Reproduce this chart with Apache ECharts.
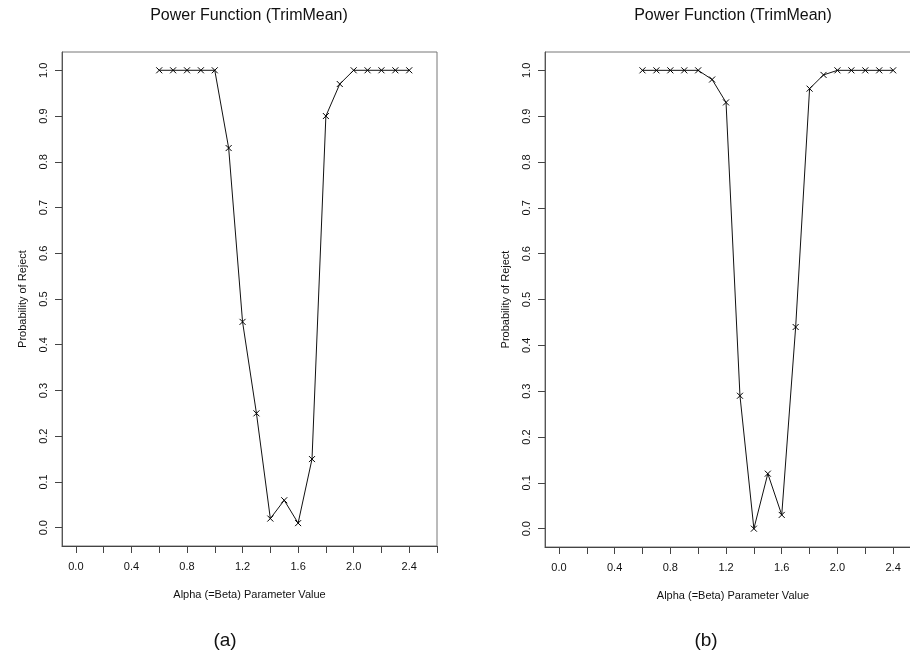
<!DOCTYPE html>
<html>
<head>
<meta charset="utf-8">
<script src="https://cdn.jsdelivr.net/npm/echarts@6/dist/echarts.min.js"></script>
<style>
  html, body { margin: 0; padding: 0; background: #fff; }
  #chart { width: 910px; height: 657px; }
</style>
</head>
<body>
<div id="chart"></div>
<script>
// valeurs de alpha (=beta) testées
const alphaValues = [0.6, 0.7, 0.8, 0.9, 1.0, 1.1, 1.2, 1.3, 1.4, 1.5, 1.6, 1.7, 1.8, 1.9, 2.0, 2.1, 2.2, 2.3, 2.4];
// probabilité de rejet, panneau (a)
const powerA = [1.00, 1.00, 1.00, 1.00, 1.00, 0.83, 0.45, 0.25, 0.02, 0.06, 0.01, 0.15, 0.90, 0.97, 1.00, 1.00, 1.00, 1.00, 1.00];
// probabilité de rejet, panneau (b)
const powerB = [1.00, 1.00, 1.00, 1.00, 1.00, 0.98, 0.93, 0.29, 0.00, 0.12, 0.03, 0.44, 0.96, 0.99, 1.00, 1.00, 1.00, 1.00, 1.00];

// graduations
const xTickValues = [0, 0.2, 0.4, 0.6, 0.8, 1.0, 1.2, 1.4, 1.6, 1.8, 2.0, 2.2, 2.4, 2.6];
const xLabelValues = [0, 0.4, 0.8, 1.2, 1.6, 2.0, 2.4];
const yTickValues = [0, 0.1, 0.2, 0.3, 0.4, 0.5, 0.6, 0.7, 0.8, 0.9, 1.0];

const panelTitle = 'Power Function (TrimMean)';
const panelLetters = ['(a)', '(b)'];
const xName = 'Alpha (=Beta) Parameter Value';
const yName = 'Probability of Reject';

const FONT = '"Liberation Sans", Arial, Helvetica, sans-serif';
const CROSS = 'path://M0,0L10,10M10,0L0,10';

const chart = echarts.init(document.getElementById('chart'), null, { renderer: 'canvas' });

// le panneau (b) dépasse du bord droit comme dans l'original
const grids = [
    { left: 62, top: 52, width: 375, height: 494 },
    { left: 545, top: 52, width: 376, height: 495 }
];

function makeXAxis(i) {
    return {
        type: 'value',
        gridIndex: i,
        min: -0.1,
        max: 2.6,
        name: xName,
        nameLocation: 'middle',
        nameGap: 43,
        nameTextStyle: { fontFamily: FONT, fontSize: 11, color: '#111' },
        axisLine: { show: true, onZero: false, lineStyle: { color: '#444', width: 1 } },
        axisTick: { show: true, length: 7, customValues: xTickValues, lineStyle: { color: '#444' } },
        axisLabel: {
            customValues: xLabelValues,
            margin: 15,
            fontFamily: FONT, fontSize: 11, color: '#111',
            formatter: v => v.toFixed(1)
        },
        splitLine: { show: false }
    };
}

function makeYAxis(i) {
    return {
        type: 'value',
        gridIndex: i,
        min: -0.04,
        max: 1.04,
        name: yName,
        nameLocation: 'middle',
        nameRotate: 90,
        nameGap: 34,
        nameTextStyle: { fontFamily: FONT, fontSize: 11, color: '#111' },
        axisLine: { show: true, onZero: false, lineStyle: { color: '#555', width: 1 } },
        axisTick: { show: true, length: 7, customValues: yTickValues, lineStyle: { color: '#444' } },
        axisLabel: {
            customValues: yTickValues,
            rotate: 90,
            margin: 13,
            fontFamily: FONT, fontSize: 11, color: '#111',
            formatter: v => v.toFixed(1)
        },
        splitLine: { show: false }
    };
}

function makeSeries(i, values) {
    return {
        type: 'line',
        xAxisIndex: i,
        yAxisIndex: i,
        data: alphaValues.map((a, k) => [a, values[k]]),
        symbol: CROSS,
        symbolSize: 6,
        showSymbol: true,
        itemStyle: { color: '#000', borderColor: '#000', borderWidth: 1 },
        lineStyle: { color: '#111', width: 1 },
        emphasis: { disabled: true }
    };
}

const option = {
    animation: false,
    backgroundColor: '#fff',
    title: [
        { text: panelTitle, left: 249, top: 8, textAlign: 'center', padding: 0,
          textStyle: { fontFamily: FONT, fontSize: 16, fontWeight: 'normal', color: '#111' } },
        { text: panelTitle, left: 733, top: 8, textAlign: 'center', padding: 0,
          textStyle: { fontFamily: FONT, fontSize: 16, fontWeight: 'normal', color: '#111' } },
        { text: panelLetters[0], left: 225, top: 631, textAlign: 'center', padding: 0,
          textStyle: { fontFamily: FONT, fontSize: 19, fontWeight: 'normal', color: '#111' } },
        { text: panelLetters[1], left: 706, top: 631, textAlign: 'center', padding: 0,
          textStyle: { fontFamily: FONT, fontSize: 19, fontWeight: 'normal', color: '#111' } }
    ],
    grid: grids.map(g => Object.assign({
        show: true, borderColor: '#777', borderWidth: 1,
        containLabel: false, outerBoundsMode: 'none'
    }, g)),
    xAxis: [makeXAxis(0), makeXAxis(1)],
    yAxis: [makeYAxis(0), makeYAxis(1)],
    series: [makeSeries(0, powerA), makeSeries(1, powerB)]
};

chart.setOption(option);
</script>
</body>
</html>
